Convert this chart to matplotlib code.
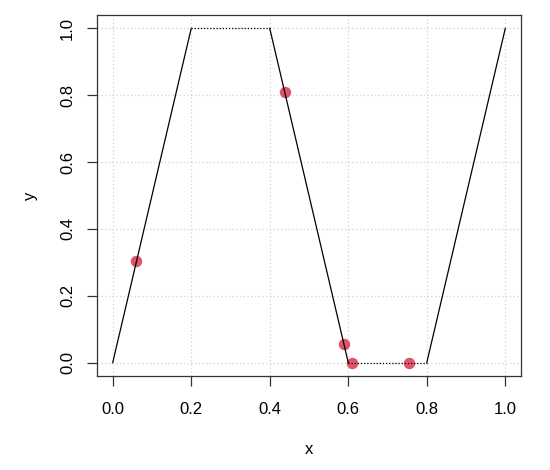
import matplotlib
matplotlib.use("Agg")
import matplotlib.pyplot as plt

plt.rcParams['font.family'] = ['Liberation Sans', 'DejaVu Sans']

seg_x = [0.0, 0.2, 0.4, 0.6, 0.8, 1.0]
seg_y = [0.0, 1.0, 1.0, 0.0, 0.0, 1.0]
seg_style = ['-', ':', '-', ':', '-']
pts_x = [0.06, 0.44, 0.59, 0.61, 0.755]
pts_y = [0.305, 0.81, 0.057, 0.0, 0.0]
ticks = [0.0, 0.2, 0.4, 0.6, 0.8, 1.0]
tick_labels = ['0.0', '0.2', '0.4', '0.6', '0.8', '1.0']

fig = plt.figure(figsize=(5.5, 4.7), dpi=100)
ax = fig.add_axes([97/550, 1-376/470, (521-97)/550, (376-15)/470])
ax.set_xlim(-0.04, 1.04)
ax.set_ylim(-0.04, 1.04)

for t in ticks:
    ax.axvline(t, color='#d3d3d3', lw=0.9, ls=(0, (1, 2)), zorder=0)
    ax.axhline(t, color='#d3d3d3', lw=0.9, ls=(0, (1, 2)), zorder=0)

ax.scatter(pts_x, pts_y, s=68, color='#DF536B', zorder=2, linewidths=0)
for i in range(len(seg_style)):
    ls = '-' if seg_style[i] == '-' else (0, (1, 1.5))
    ax.plot(seg_x[i:i+2], seg_y[i:i+2], color='black', lw=0.9, ls=ls, zorder=3)

ax.set_xticks(ticks)
ax.set_xticklabels(tick_labels)
ax.set_yticks(ticks)
ax.set_yticklabels(tick_labels, rotation=90, va='center')
ax.tick_params(direction='out', length=7.2, width=0.9, labelsize=12, color='#333333')
ax.tick_params(axis='x', pad=11.5)
ax.tick_params(axis='y', pad=8.5)
for s in ax.spines.values():
    s.set_linewidth(0.9)
    s.set_color('#333333')
ax.set_xlabel('x', fontsize=12, labelpad=18)
ax.set_ylabel('y', fontsize=12, labelpad=16)

fig.savefig('out.png', dpi=100)
